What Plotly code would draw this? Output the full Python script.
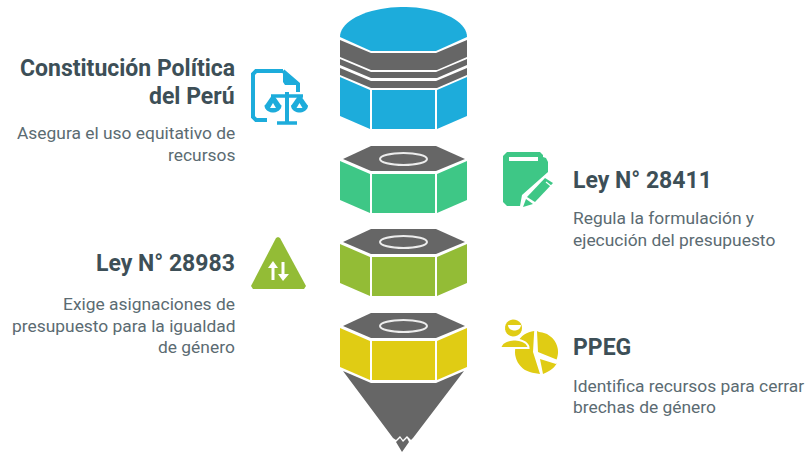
import numpy as np
import plotly.graph_objects as go

# Texts of the infographic
titles = [["Constitución Política", "del Perú"], ["Ley N° 28411"], ["Ley N° 28983"], ["PPEG"]]
descriptions = [
    ["Asegura el uso equitativo de", "recursos"],
    ["Regula la formulación y", "ejecución del presupuesto"],
    ["Exige asignaciones de", "presupuesto para la igualdad", "de género"],
    ["Identifica recursos para cerrar", "brechas de género"],
]
sides = ["right", "left", "right", "left"]
title_rows = [[68, 96], [180], [263], [347]]
desc_rows = [[133, 155], [218, 240], [304, 326, 347], [386, 407]]

BLUE = "#1DACDB"
GREEN = "#3EC786"
OLIVE = "#93BC36"
YELLOW = "#E0CC14"
GREY = "#666666"
TITLE_COLOR = "#3D4F57"
DESC_COLOR = "#5B6B72"

shapes = []


def poly(points, color, line=None, width=0):
    # closed filled path in pixel coordinates
    path = "M " + " L ".join(f"{x:.1f},{y:.1f}" for x, y in points) + " Z"
    shapes.append(dict(type="path", path=path, fillcolor=color, layer="above",
                       line=dict(color=line or color, width=width)))


def stroke(points, color, width):
    path = "M " + " L ".join(f"{x:.1f},{y:.1f}" for x, y in points)
    shapes.append(dict(type="path", path=path, layer="above",
                       line=dict(color=color, width=width)))


def arc(cx, cy, r, a0, a1, n=24, ry=None):
    t = np.radians(np.linspace(a0, a1, n))
    return list(zip(cx + r * np.cos(t), cy + (ry or r) * np.sin(t)))


def body(top, color):
    # three faces of a prism, top = y of the upper outer corner
    poly([(340, top), (370, top + 13), (370, top + 52), (340, top + 39)], color)
    poly([(372, top + 13), (435, top + 13), (435, top + 52), (372, top + 52)], color)
    poly([(437, top + 13), (467, top), (467, top + 39), (437, top + 52)], color)


def nut(top, color):
    # grey hexagon with a white ring, above the prism
    poly([(371, top), (436, top), (465, top + 13), (436, top + 25), (371, top + 25), (343, top + 13)], GREY)
    shapes.append(dict(type="circle", x0=380, x1=427, y0=top + 7, y1=top + 19, layer="above",
                       line=dict(color="#EDEDED", width=2)))
    body(top + 15, color)


def band(y0, y1):
    poly([(340, y0), (371, y0 + 13), (436, y0 + 13), (467, y0),
          (467, y1), (437, y1 + 13), (371, y1 + 13), (340, y1)], GREY)


# Top cylinder
dome = arc(403.5, 37, 63.5, 180, 360, 40, ry=30)
poly(dome + [(436, 51), (371, 51)], BLUE)
band(40, 57)
band(59, 65)
band(68, 75)
body(77, BLUE)

# Stacked nuts
nut(146, GREEN)
nut(229, OLIVE)

# Cone below the last nut
poly([(343, 371), (371, 383), (436, 383), (464, 371), (413, 438), (411, 440), (407, 436),
      (403, 440), (400, 436), (396, 440), (393, 438)], GREY)
poly([(396, 442), (400, 438), (403, 442), (407, 438), (409, 442), (402, 452)], GREY)
nut(313, YELLOW)

# Icon: document with scales
stroke([(283, 71), (256, 71), (253, 74), (253, 117), (256, 120), (267, 120)], BLUE, 4)
stroke([(283, 71), (298, 84), (298, 92)], BLUE, 4)
poly([(283, 71), (298, 85), (285, 85), (283, 82)], BLUE)
stroke([(271, 96), (303, 96)], BLUE, 3.5)
stroke([(287, 92), (287, 122)], BLUE, 4)
stroke([(277, 123), (297, 123)], BLUE, 3.5)
for cx in (273, 299.5):
    poly([(cx - 1.5, 96), (cx + 1.5, 96), (cx + 8.5, 106), (cx - 8.5, 106)], BLUE)
    poly(arc(cx, 105.5, 8.5, 0, 180, 16, ry=7), BLUE)
    poly([(cx, 103), (cx - 3, 108), (cx + 3, 108)], "white")

# Icon: book and pencil
poly([(507, 152), (540, 152), (543, 155), (543, 157), (546, 158), (548, 162), (548, 172),
      (522, 195), (520, 206), (507, 206), (503, 202), (503, 156)], GREEN)
poly([(509, 157), (538, 157), (538, 161), (509, 161)], "white")
poly([(527, 197), (545, 178), (553, 183), (535, 202)], GREEN)
stroke([(546, 182), (551, 186)], "white", 1.2)
poly([(526, 199), (533, 204), (523, 207)], GREEN)

# Icon: triangle with arrows
poly([(278, 237), (280, 238), (306, 286), (304, 289), (253, 289), (251, 286), (276, 238)], OLIVE)
stroke([(273, 266), (273, 280)], "white", 3)
stroke([(283, 262), (283, 276)], "white", 3)
poly([(268, 268), (273, 261), (278, 268)], "white")
poly([(278, 274), (283, 281), (289, 274)], "white")

# Icon: person and pie
poly([(537, 331)] + arc(538, 352, 20, -87, 22) + [(538, 352)], YELLOW)
poly([(540, 359), (556, 364)] + arc(538, 352, 22, 30, 68, 8) + [(543, 374)], YELLOW)
poly([(533, 352), (540, 374)] + arc(536, 352, 21, 100, 265), YELLOW)
poly(arc(514.5, 348, 14, 180, 360, 24, ry=8.5), YELLOW, line="white", width=2)
poly(arc(513.5, 328, 8.5, 0, 360), YELLOW)
poly(arc(514.5, 325, 6.5, 0, 180, 12, ry=5.5), "white")

# Text blocks
annotations = []
for side, ttl, rows, desc, drows in zip(sides, titles, title_rows, descriptions, desc_rows):
    x = 237 if side == "right" else 571
    for line, y in zip(ttl, rows):
        annotations.append(dict(x=x, y=y, text=line, showarrow=False, xanchor=side, yanchor="middle",
                                font=dict(family="Roboto", size=23, weight=700, color=TITLE_COLOR)))
    for line, y in zip(desc, drows):
        annotations.append(dict(x=x, y=y, text=line, showarrow=False, xanchor=side, yanchor="middle",
                                font=dict(family="Roboto", size=17.4, color=DESC_COLOR)))

fig = go.Figure()
fig.update_layout(
    width=805, height=452,
    margin=dict(l=0, r=0, t=0, b=0),
    paper_bgcolor="white", plot_bgcolor="white",
    xaxis=dict(range=[0, 805], visible=False, fixedrange=True),
    yaxis=dict(range=[452, 0], visible=False, fixedrange=True),
    shapes=shapes, annotations=annotations, showlegend=False,
)
fig.write_html("out.html", config=dict(displayModeBar=False),
               post_script="document.body.style.margin='0';")
